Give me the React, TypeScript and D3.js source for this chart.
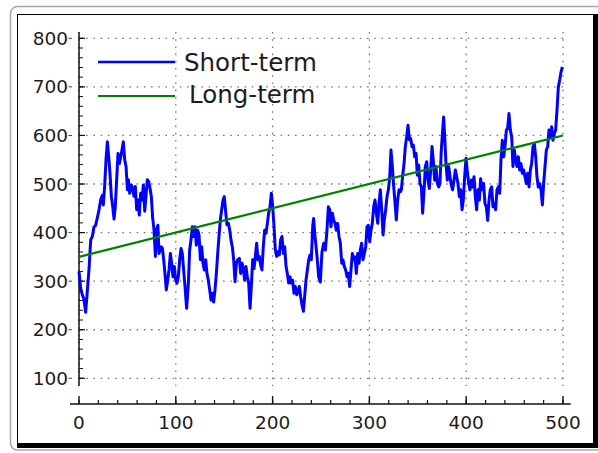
import React, { useEffect, useRef } from "react";
import * as d3 from "d3";

// short-term series (x positions, values)
const shortX = [
  0, 1.7, 3.4, 5.2, 6.9, 8.6, 10.3, 12.1, 13.8, 15.5, 17.2, 18.9, 20.7, 22.4, 24.1,
  25.1, 26.5, 27.9, 29.3, 30.7, 32, 33.4, 34.8, 36.2, 37.5, 38.9, 40.3, 41.7, 43.1, 44.4,
  45.8, 47.2, 48.6, 50, 51, 52.4, 54.1, 55.5, 56.8, 58.2, 59.6, 61, 62.3, 63.7, 65.1,
  66.5, 67.9, 69.2, 70.6, 72, 73.4, 74.7, 76.1, 77.5, 78.9, 80.2, 81.5,
  82.6, 84.7, 86.1, 87.5, 88.8, 90.2, 91.6, 93, 94.4, 95.7, 97.1, 98.5, 99.9, 101.2, 102.6,
  104, 105.4, 106.7, 108.1, 109.5, 111.2, 113, 114.3, 115.7, 117.1, 118.5, 119.8, 121.2, 122.6, 124,
  125.4, 126.7, 128.1, 129.5, 130.9, 132.2, 133.6, 135, 136.4, 137.8, 139.1, 140.5, 141.9, 143.3, 144.6,
  146, 147.4, 148.8, 150.1, 151.5, 152.9, 154.3, 155.7, 157, 158.4, 159.8, 161.2, 162.6, 163.9,
  165.6, 167, 168.4, 169.8, 171.1, 172.5, 173.9, 175.3, 176.7, 178, 179.4, 180.8, 182.2, 183.5, 184.9,
  186.3, 187.7, 189, 190.4, 191.8, 193.2, 194.6, 195.9, 197.3, 198.7, 200.1, 201.5, 202.8, 204.2, 205.6,
  207, 208.3, 209.7, 211.1, 212.5, 213.9, 215.2, 216.6, 218, 219.4, 220.7, 222.1, 223.5, 224.9, 226.3,
  227.6, 229, 230.4, 231.8, 233.1, 234.5, 235.9, 237.3, 238.7, 240, 241.4, 242.4, 243.5, 244.9, 246.2, 247.6,
  249.3, 251, 252.8, 254.5, 256.2, 257.6, 259, 260.3, 261.7, 263.1, 264.5, 265.8, 267.2, 268.6, 270,
  271.4, 272.7, 274.1, 275.5, 276.9, 278.2, 279.6, 281, 282.4, 283.8, 285.1, 286.5, 287.9, 289.3, 290.6,
  292, 293.4, 294.8, 296.2, 297.5, 298.9, 300.3, 301.7, 303, 304.4, 305.8, 307.2, 308.6, 309.9, 311.3,
  312.7, 314.1, 315.4, 316.8, 318.2, 319.6, 321, 322.3, 323.7, 325.1, 326.5, 327.8, 329.2, 330.6, 332,
  333, 334.4, 335.8, 337.1, 338.5, 339.9, 341.3, 342.6, 344, 345.4, 346.8, 348.2, 349.5, 350.9, 352.3,
  353.7, 355, 356.4, 357.8, 359.2, 360.5, 361.9, 363.3, 364.7, 366.1, 367.4, 368.8, 370.2, 371.6, 372.9,
  374.3, 375.7, 376.7, 377.8, 379.1, 380.5, 381.9, 383.3, 384.6, 386, 387.4, 388.8, 390.2, 391.5, 392.9,
  394.3, 395.7, 397, 398.4, 399.8, 401.2, 402.6, 403.9, 405.3, 406.7, 408.1, 409.4, 410.8, 412.2, 413.6,
  414.9, 416.3,
  418, 419.4, 420.8, 422.2, 423.6, 424.9, 426.3, 427.7, 429.1, 430.4, 431.8, 433.2, 434.6, 435.9, 437.3,
  438.7, 440.1, 441.5, 442.8, 444.2, 445.6, 447, 448.3, 449.7, 451.1, 452.5, 453.9, 455.2, 456.6, 458,
  459.4, 460.7, 462.1, 463.5, 464.9, 466.3, 467.6, 469, 470.4, 471.8, 473.1, 474.5, 475.9, 477.3, 478.7,
  480, 481.4, 482.8, 484.2, 485.5, 486.9, 488.3, 489.7, 491, 492.4, 493.8, 495.2, 496.6, 497.9, 499.3,
];
const shortY = [
  320, 285, 272, 262, 236, 280, 323, 385, 392, 412, 415, 430, 447, 467, 477,
  457, 495, 550, 587, 556, 522, 475, 454, 428, 454, 509, 563, 542, 556, 570,
  587, 550, 536, 488, 509, 481, 498, 491, 475, 495, 447, 467, 436, 481, 467,
  498, 444, 475, 509, 505, 491, 475, 430, 406, 351, 406, 415,
  357, 371, 368, 344, 316, 282, 302, 323, 357, 337, 309, 330, 302, 296, 309,
  344, 367, 357, 323, 289, 244, 296, 364, 385, 412, 392, 412, 374, 405, 395,
  344, 371, 337, 323, 344, 316, 302, 282, 261, 275, 257, 282, 316, 357, 392,
  426, 447, 467, 474, 443, 416, 419, 405, 385, 371, 344, 299, 337, 344,
  347, 316, 337, 326, 302, 330, 309, 296, 244, 289, 344, 326, 351, 378, 344,
  351, 333, 323, 371, 405, 399, 419, 440, 453, 481, 453, 412, 364, 351, 361,
  354, 385, 392, 357, 371, 330, 316, 296, 309, 296, 302, 275, 289, 272, 279,
  289, 268, 251, 238, 268, 302, 323, 344, 354, 344, 412, 429, 399, 371, 344, 309,
  298, 360, 378, 364, 405, 453, 447, 412, 440, 426, 419, 405, 419, 392, 378,
  337, 344, 330, 323, 309, 316, 289, 323, 357, 344, 350, 316, 357, 337, 364,
  378, 344, 357, 371, 412, 415, 381, 405, 419, 453, 467, 440, 419, 460, 488,
  447, 395, 426, 447, 474, 488, 515, 570, 536, 495, 460, 426, 467, 488, 484,
  488, 518, 542, 577, 597, 621, 591, 594, 577, 580, 556, 563, 518, 539, 501,
  494, 440, 484, 536, 546, 508, 491, 529, 577, 546, 508, 536, 501, 494, 501,
  570, 611, 638, 597, 542, 508, 536, 515, 498, 488, 508, 529, 515, 501, 474,
  488, 447, 467, 515, 553, 525, 501, 488, 508, 494, 515, 474, 447, 488, 467,
  511, 488,
  501, 460, 453, 425, 467, 488, 494, 453, 460, 447, 488, 494, 481, 549, 590,
  556, 577, 611, 614, 645, 611, 597, 536, 570, 549, 536, 556, 529, 542, 522,
  529, 515, 501, 522, 494, 529, 542, 577, 583, 556, 515, 494, 501, 488, 457,
  501, 536, 570, 577, 611, 597, 618, 590, 604, 611, 652, 700, 714, 730, 741,
];

// long-term trend
const longX = [0, 500];
const longY = [350, 600];

const xTicks = [0, 100, 200, 300, 400, 500];
const yTicks = [100, 200, 300, 400, 500, 600, 700, 800];
const legendLabels = ["Short-term", "Long-term"];
const legendColors = ["#0000ff", "#008000"];

export default function App() {
  const ref = useRef<SVGSVGElement>(null);

  useEffect(() => {
    const svg = d3.select(ref.current);
    svg.selectAll("*").remove();
    const font = "'DejaVu Sans', sans-serif";

    const x = d3.scaleLinear().domain([0, 500]).range([79, 563]);
    const y = d3.scaleLinear().domain([100, 800]).range([378.3, 38.3]);

    // outer rounded frame + inner box with thick right/bottom edges
    svg.append("rect")
      .attr("x", 10.5).attr("y", 6.5)
      .attr("width", 600).attr("height", 443.5)
      .attr("rx", 7)
      .attr("fill", "white")
      .attr("stroke", "#a6a6a6")
      .attr("stroke-width", 1.5);
    svg.append("rect")
      .attr("x", 17.5).attr("y", 14.5)
      .attr("width", 576).attr("height", 429)
      .attr("fill", "white")
      .attr("stroke", "black");
    svg.append("rect")
      .attr("x", 593).attr("y", 14)
      .attr("width", 5).attr("height", 434)
      .attr("fill", "black");
    svg.append("rect")
      .attr("x", 17).attr("y", 443)
      .attr("width", 581).attr("height", 5)
      .attr("fill", "black");

    // dotted grid
    const grid = svg.append("g")
      .attr("stroke", "#7a7a7a")
      .attr("stroke-width", 1.3)
      .attr("stroke-dasharray", "1.6,5.6");
    grid.selectAll("line.h")
      .data(yTicks)
      .enter()
      .append("line")
      .attr("x1", x(0)).attr("x2", x(502))
      .attr("y1", (d) => y(d)).attr("y2", (d) => y(d));
    grid.selectAll("line.v")
      .data(xTicks)
      .enter()
      .append("line")
      .attr("x1", (d) => x(d)).attr("x2", (d) => x(d))
      .attr("y1", y(813)).attr("y2", y(84));

    // axes
    const axes = svg.append("g").attr("stroke", "#111").attr("stroke-width", 1.5);
    axes.append("line")
      .attr("x1", x(0)).attr("x2", x(0))
      .attr("y1", y(813)).attr("y2", y(84));
    axes.append("line")
      .attr("x1", x(-9.3)).attr("x2", x(508))
      .attr("y1", 404).attr("y2", 404);

    // y minor + major ticks (pointing right)
    axes.selectAll("line.ym")
      .data(y.ticks(35))
      .enter()
      .append("line")
      .attr("x1", x(0)).attr("x2", x(0) + 4)
      .attr("y1", (d) => y(d)).attr("y2", (d) => y(d))
      .attr("stroke-width", 1);
    axes.selectAll("line.yM")
      .data(yTicks)
      .enter()
      .append("line")
      .attr("x1", x(0)).attr("x2", x(0) + 6)
      .attr("y1", (d) => y(d)).attr("y2", (d) => y(d))
      .attr("stroke-width", 1.2);
    axes.selectAll("line.yd")
      .data(yTicks)
      .enter()
      .append("line")
      .attr("x1", 68.5).attr("x2", 72)
      .attr("y1", (d) => y(d)).attr("y2", (d) => y(d))
      .attr("stroke", "#444")
      .attr("stroke-width", 1);

    // x minor + major ticks (pointing up)
    axes.selectAll("line.xm")
      .data(x.ticks(25))
      .enter()
      .append("line")
      .attr("x1", (d) => x(d)).attr("x2", (d) => x(d))
      .attr("y1", 400).attr("y2", 404)
      .attr("stroke-width", 1.2);
    axes.selectAll("line.xM")
      .data(xTicks)
      .enter()
      .append("line")
      .attr("x1", (d) => x(d)).attr("x2", (d) => x(d))
      .attr("y1", 396).attr("y2", 404)
      .attr("stroke-width", 1.4);

    // tick labels
    svg.append("g")
      .selectAll("text")
      .data(yTicks)
      .enter()
      .append("text")
      .attr("x", 68)
      .attr("y", (d) => y(d))
      .attr("text-anchor", "end")
      .attr("dominant-baseline", "central")
      .style("font-family", font)
      .style("font-size", "18.5px")
      .attr("fill", "#1c1c1c")
      .text((d) => d);
    svg.append("g")
      .selectAll("text")
      .data(xTicks)
      .enter()
      .append("text")
      .attr("x", (d) => x(d))
      .attr("y", 422)
      .attr("text-anchor", "middle")
      .attr("dominant-baseline", "central")
      .style("font-family", font)
      .style("font-size", "18.5px")
      .attr("fill", "#1c1c1c")
      .text((d) => d);

    // series
    const line = d3.line<number>()
      .x((d, i) => x(shortX[i]))
      .y((d) => y(d));
    svg.append("path")
      .datum(shortY)
      .attr("d", line)
      .attr("fill", "none")
      .attr("stroke", legendColors[0])
      .attr("stroke-width", 3)
      .attr("stroke-linejoin", "round");

    const trend = d3.line<number>()
      .x((d, i) => x(longX[i]))
      .y((d) => y(d));
    svg.append("path")
      .datum(longY)
      .attr("d", trend)
      .attr("fill", "none")
      .attr("stroke", legendColors[1])
      .attr("stroke-width", 2.2);

    // legend
    const legendY = [62, 96];
    const textX = [184, 189];
    const textBase = [70.5, 102.5];
    legendLabels.forEach((label, i) => {
      svg.append("line")
        .attr("x1", 98).attr("x2", 175)
        .attr("y1", legendY[i]).attr("y2", legendY[i])
        .attr("stroke", legendColors[i])
        .attr("stroke-width", i === 0 ? 2.5 : 2.2);
      svg.append("text")
        .attr("x", textX[i])
        .attr("y", textBase[i])
        .style("font-family", font)
        .style("font-size", "24.5px")
        .attr("fill", "#1c1c1c")
        .text(label);
    });
  }, []);

  return (
    <svg
      ref={ref}
      width={598}
      height={453}
      style={{ position: "absolute", left: 0, top: 0, background: "white" }}
    />
  );
}
